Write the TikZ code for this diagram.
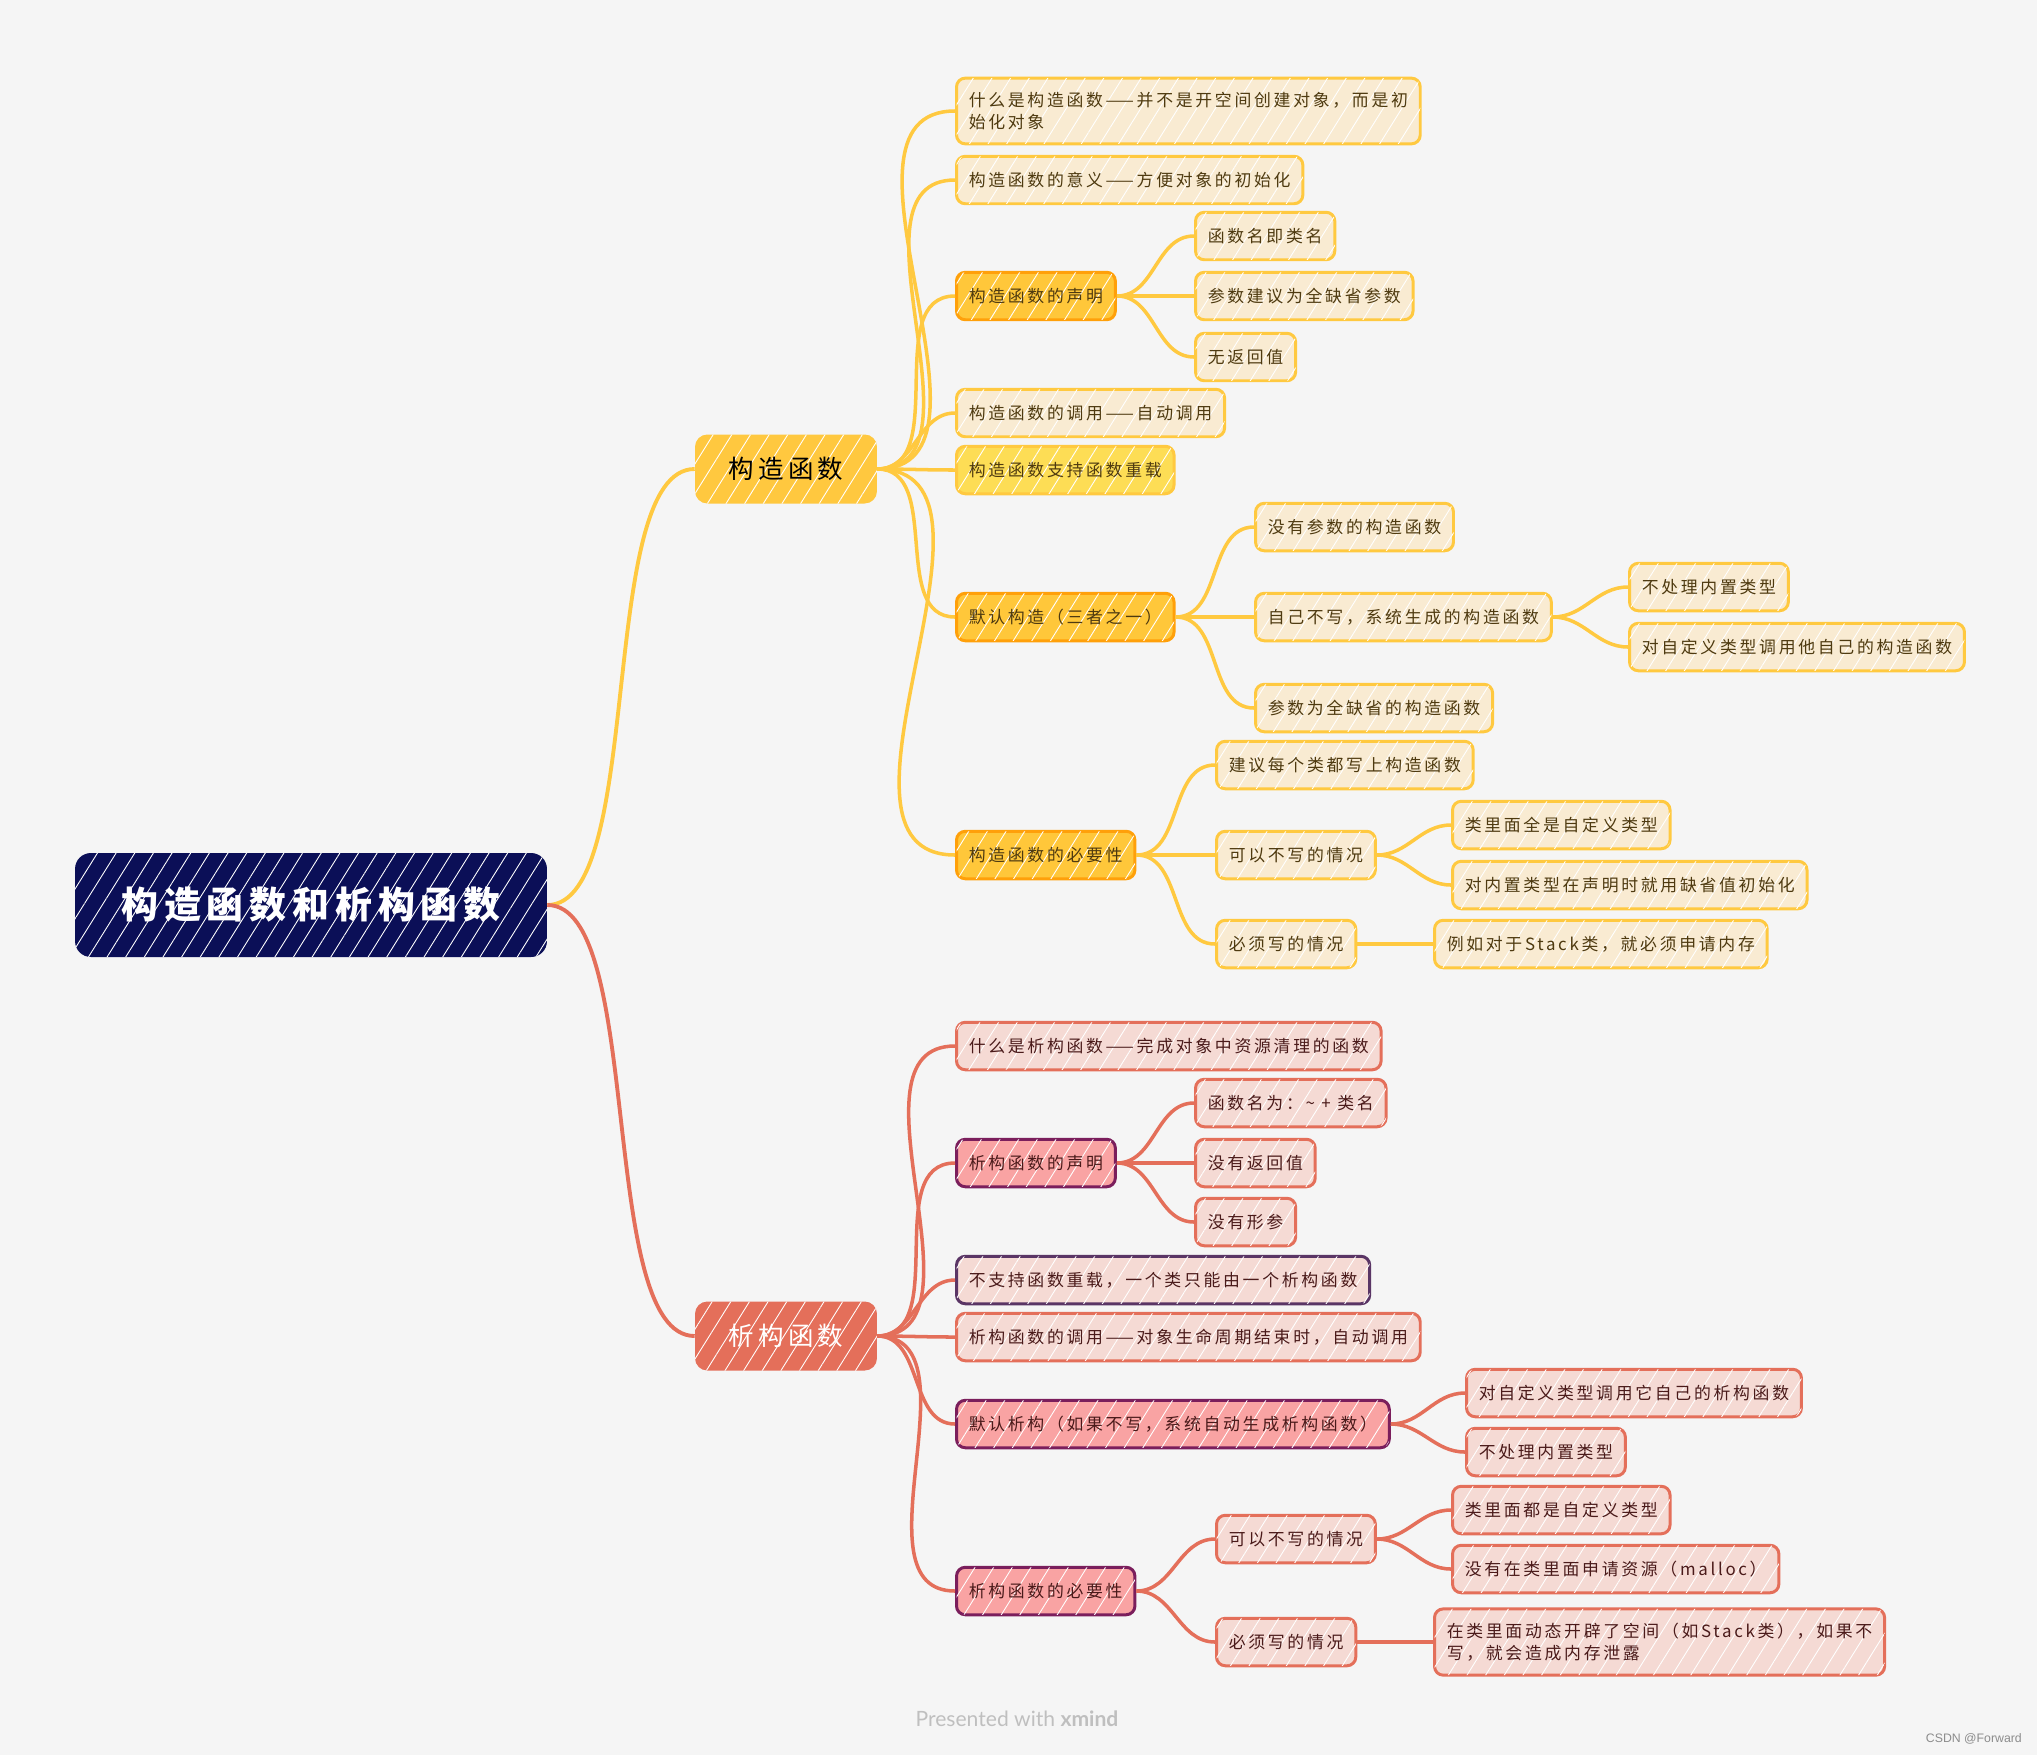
\documentclass[tikz,border=0pt]{standalone}
\usepackage{fontspec}
\setmainfont{Noto Sans CJK SC}[LetterSpace=16]
\newfontfamily\markfont{Lato}
\newfontfamily\csdnfont{Liberation Sans}
\usetikzlibrary{patterns.meta}

\definecolor{bgc}{HTML}{F5F5F5}
\definecolor{navy}{HTML}{0B0F57}
\definecolor{yline}{HTML}{FFC940}
\definecolor{ymain}{HTML}{FFC83F}
\definecolor{ylight}{HTML}{F9EBD2}
\definecolor{yhotfill}{HTML}{FFC73A}
\definecolor{yhotline}{HTML}{FFA00A}
\definecolor{ybright}{HTML}{FDDD55}
\definecolor{ytext}{HTML}{4E3A10}
\definecolor{pline}{HTML}{E46F5A}
\definecolor{pmain}{HTML}{E46F5A}
\definecolor{plight}{HTML}{F5DAD4}
\definecolor{photfill}{HTML}{F9A3A3}
\definecolor{photline}{HTML}{7B1E5C}
\definecolor{ppurple}{HTML}{5A3565}
\definecolor{ptext}{HTML}{4A1A1A}

\begin{document}
\begin{tikzpicture}[x=0.02cm, y=-0.02cm]
	\tikzset{hatch/.style = {postaction={pattern={Lines[angle=58,distance=9pt,line width=0.5pt]},
				pattern color=white, fill opacity=#1}}}
	\tikzset{topic/.style = {draw, rounded corners=5pt, line width=1.7pt, anchor=west,
			minimum height=0.95cm, inner xsep=7pt, inner ysep=3pt, align=left,
			font=\fontsize{9.6}{12.5}\selectfont, hatch=0.22}}
	\tikzset{ytopic/.style = {topic, fill=ylight, draw=yline, text=ytext}}
	\tikzset{yhot/.style = {topic, fill=yhotfill, draw=yhotline, text=ytext}}
	\tikzset{ybright/.style = {topic, fill=ybright, draw=yline, text=ytext}}
	\tikzset{ptopic/.style = {topic, fill=plight, draw=pline, text=ptext}}
	\tikzset{phot/.style = {topic, fill=photfill, draw=photline, text=ptext}}
	\tikzset{ppurple/.style = {topic, fill=plight, draw=ppurple, text=ptext}}
	\tikzset{mainbox/.style = {rounded corners=7pt, minimum width=3.64cm, minimum height=1.38cm,
			font=\fontsize{14.5}{16}\selectfont, hatch=0.4}}
	\tikzset{yedge/.style = {draw=yline, line width=2pt}}
	\tikzset{pedge/.style = {draw=pline, line width=2pt}}
	
	% background
	\fill[bgc] (0,0) rectangle (2037,1755);
	\useasboundingbox (0,0) rectangle (2037,1755);
	
	% root and branches
	\node[fill=navy, text=white, rounded corners=9pt, minimum width=9.44cm, minimum height=2.08cm,
	font=\fontsize{21}{24}\selectfont\bfseries, hatch=0.55] (root) at (311,905) {构造函数和析构函数};
	\node[mainbox, fill=ymain, text=black] (ctor) at (786,469) {构造函数};
	\node[mainbox, fill=pmain, text=white] (dtor) at (786,1336) {析构函数};
	
	% constructor topics
	\node[ytopic, inner ysep=8pt] (c1) at (955,111) {什么是构造函数——并不是开空间创建对象，而是初\\始化对象};
	\node[ytopic] (c2) at (955,180) {构造函数的意义——方便对象的初始化};
	\node[yhot] (c3) at (955,296) {构造函数的声明};
	\node[ytopic] (c31) at (1194,236) {函数名即类名};
	\node[ytopic] (c32) at (1194,296) {参数建议为全缺省参数};
	\node[ytopic] (c33) at (1194,357) {无返回值};
	\node[ytopic] (c4) at (955,413) {构造函数的调用——自动调用};
	\node[ybright] (c5) at (955,470) {构造函数支持函数重载};
	\node[yhot] (c6) at (955,617) {默认构造（三者之一）};
	\node[ytopic] (c61) at (1254,527) {没有参数的构造函数};
	\node[ytopic] (c62) at (1254,617) {自己不写，系统生成的构造函数};
	\node[ytopic] (c621) at (1628,587) {不处理内置类型};
	\node[ytopic] (c622) at (1628,647) {对自定义类型调用他自己的构造函数};
	\node[ytopic] (c63) at (1254,708) {参数为全缺省的构造函数};
	\node[yhot] (c7) at (955,855) {构造函数的必要性};
	\node[ytopic] (c71) at (1215,765) {建议每个类都写上构造函数};
	\node[ytopic] (c72) at (1215,855) {可以不写的情况};
	\node[ytopic] (c721) at (1451,825) {类里面全是自定义类型};
	\node[ytopic] (c722) at (1451,885) {对内置类型在声明时就用缺省值初始化};
	\node[ytopic] (c73) at (1215,944) {必须写的情况};
	\node[ytopic] (c731) at (1433,944) {例如对于Stack类，就必须申请内存};
	
	% destructor topics
	\node[ptopic] (d1) at (955,1046) {什么是析构函数——完成对象中资源清理的函数};
	\node[phot] (d2) at (955,1163) {析构函数的声明};
	\node[ptopic] (d21) at (1194,1103) {函数名为：\textasciitilde{} + 类名};
	\node[ptopic] (d22) at (1194,1163) {没有返回值};
	\node[ptopic] (d23) at (1194,1222) {没有形参};
	\node[ppurple] (d3) at (955,1280) {不支持函数重载，一个类只能由一个析构函数};
	\node[ptopic] (d4) at (955,1337) {析构函数的调用——对象生命周期结束时，自动调用};
	\node[phot] (d5) at (955,1424) {默认析构（如果不写，系统自动生成析构函数）};
	\node[ptopic] (d51) at (1465,1393) {对自定义类型调用它自己的析构函数};
	\node[ptopic] (d52) at (1465,1452) {不处理内置类型};
	\node[phot] (d6) at (955,1591) {析构函数的必要性};
	\node[ptopic] (d61) at (1215,1539) {可以不写的情况};
	\node[ptopic] (d611) at (1451,1510) {类里面都是自定义类型};
	\node[ptopic] (d612) at (1451,1569) {没有在类里面申请资源（malloc）};
	\node[ptopic] (d62) at (1215,1642) {必须写的情况};
	\node[ptopic, inner ysep=8pt] (d621) at (1433,1642) {在类里面动态开辟了空间（如Stack类），如果不\\写，就会造成内存泄露};
	
	% edges
	\draw[yedge, line width=2.2pt] (root.east) to[out=0,in=180,looseness=0.55] (ctor.west);
	\draw[pedge, line width=2.2pt] (root.east) to[out=0,in=180,looseness=0.55] (dtor.west);
	\foreach \n in {c1,c2,c3,c4,c5,c6,c7}
	\draw[yedge] (ctor.east) to[out=0,in=180] (\n.west);
	\foreach \n in {c31,c32,c33}
	\draw[yedge] (c3.east) to[out=0,in=180] (\n.west);
	\foreach \n in {c61,c62,c63}
	\draw[yedge] (c6.east) to[out=0,in=180] (\n.west);
	\foreach \n in {c621,c622}
	\draw[yedge] (c62.east) to[out=0,in=180] (\n.west);
	\foreach \n in {c71,c72,c73}
	\draw[yedge] (c7.east) to[out=0,in=180] (\n.west);
	\foreach \n in {c721,c722}
	\draw[yedge] (c72.east) to[out=0,in=180] (\n.west);
	\draw[yedge] (c73) to (c731);
	\foreach \n in {d1,d2,d3,d4,d5,d6}
	\draw[pedge] (dtor.east) to[out=0,in=180] (\n.west);
	\foreach \n in {d21,d22,d23}
	\draw[pedge] (d2.east) to[out=0,in=180] (\n.west);
	\foreach \n in {d51,d52}
	\draw[pedge] (d5.east) to[out=0,in=180] (\n.west);
	\foreach \n in {d61,d62}
	\draw[pedge] (d6.east) to[out=0,in=180] (\n.west);
	\foreach \n in {d611,d612}
	\draw[pedge] (d61.east) to[out=0,in=180] (\n.west);
	\draw[pedge] (d62) to (d621);
	
	% footer
	\node[text=black!25] (mark) at (1017,1719) {\markfont\fontsize{12}{14}\selectfont Presented with \textbf{xmind}};
	\node[text=black!45, anchor=east] (csdn) at (2028,1739) {\csdnfont\fontsize{7}{8}\selectfont CSDN @Forward};
\end{tikzpicture}
\end{document}
